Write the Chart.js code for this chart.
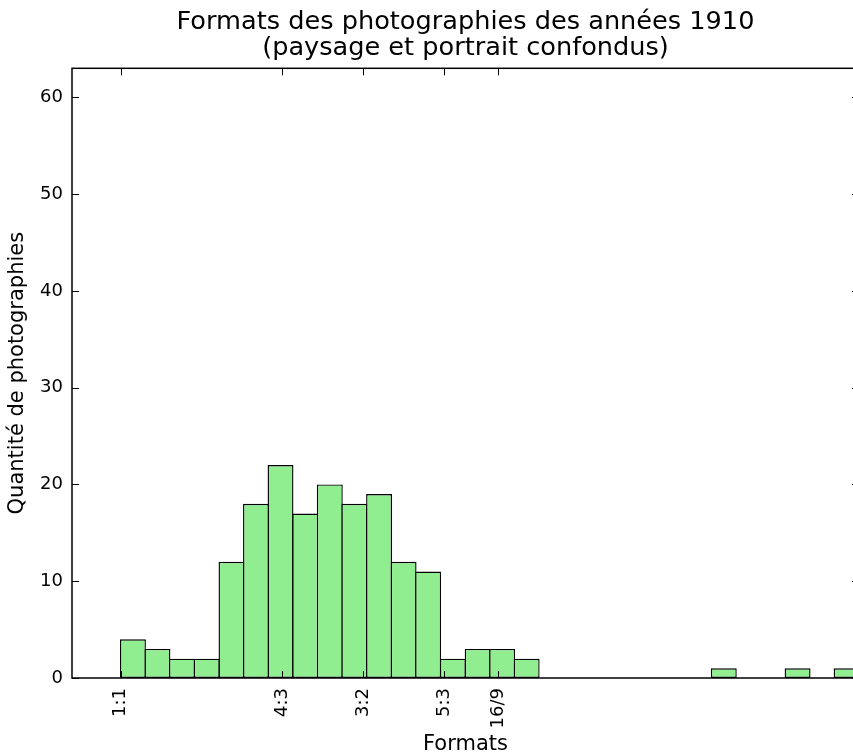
<!DOCTYPE html>
<html>
<head>
<meta charset="utf-8">
<script src="https://cdn.jsdelivr.net/npm/chart.js@4"></script>
<style>
  html, body { margin: 0; padding: 0; overflow: hidden; background: #fff; }
  #wrap { width: 900px; height: 756px; }
</style>
</head>
<body>
<div id="wrap"><canvas id="formatsChart" width="900" height="756"></canvas></div>
<script>
// histogram bins (aspect ratio = width / height)
const binEdges = [1.000, 1.051, 1.101, 1.152, 1.203, 1.254, 1.304, 1.355, 1.406, 1.456,
  1.507, 1.558, 1.608, 1.659, 1.710, 1.761, 1.811, 1.862, 1.913, 1.963,
  2.014, 2.065, 2.115, 2.166, 2.217, 2.268, 2.318, 2.369, 2.420, 2.470, 2.521];
const counts = [4, 3, 2, 2, 12, 18, 22, 17, 20, 18,
  19, 12, 11, 2, 3, 3, 2, 0, 0, 0,
  0, 0, 0, 0, 1, 0, 0, 1, 0, 1];

const tickValues = [1, 4 / 3, 3 / 2, 5 / 3, 16 / 9];
const tickLabels = ['1:1', '4:3', '3:2', '5:3', '16/9'];

const points = counts.map((c, i) => ({ x: (binEdges[i] + binEdges[i + 1]) / 2, y: c }));

const FONT = 'DejaVu Sans';

// matplotlib-like box with inward ticks on all four sides
const frame = {
  id: 'frame',
  afterDatasetsDraw(chart) {
    const { ctx, chartArea: a, scales } = chart;
    const len = 7;
    ctx.save();
    ctx.strokeStyle = '#000';
    ctx.lineWidth = 1;
    ctx.beginPath();
    scales.x.ticks.forEach(t => {
      const px = Math.round(scales.x.getPixelForValue(t.value)) + 0.5;
      ctx.moveTo(px, a.bottom); ctx.lineTo(px, a.bottom - len);
      ctx.moveTo(px, a.top); ctx.lineTo(px, a.top + len);
    });
    scales.y.ticks.forEach(t => {
      const py = Math.round(scales.y.getPixelForValue(t.value)) + 0.5;
      ctx.moveTo(a.left, py); ctx.lineTo(a.left + len, py);
      ctx.moveTo(a.right, py); ctx.lineTo(a.right - len, py);
    });
    ctx.stroke();
    ctx.lineWidth = 1.5;
    ctx.strokeRect(a.left, a.top, a.right - a.left, a.bottom - a.top);
    ctx.restore();
  }
};

new Chart(document.getElementById('formatsChart'), {
  type: 'bar',
  data: {
    datasets: [{
      data: points,
      backgroundColor: '#90EE90',
      borderColor: '#000',
      borderWidth: 1.4,
      borderSkipped: false,
      barPercentage: 1.057,
      categoryPercentage: 1
    }]
  },
  options: {
    responsive: false,
    animation: false,
    devicePixelRatio: 1,
    layout: { padding: { left: 0, right: 41, top: 0, bottom: 0 } },
    plugins: {
      legend: { display: false },
      tooltip: { enabled: false },
      title: {
        display: true,
        fullSize: false,
        text: ['Formats des photographies des années 1910', '(paysage et portrait confondus)'],
        color: '#000',
        font: { family: FONT, size: 25.6, weight: 'normal', lineHeight: 1.0 },
        padding: { top: 9.5, bottom: 7.6 }
      }
    },
    scales: {
      x: {
        type: 'linear',
        min: 0.9,
        max: 2.521,
        offset: false,
        grid: { display: false, drawTicks: false },
        border: { display: false },
        afterBuildTicks: s => { s.ticks = tickValues.map(v => ({ value: v })); },
        afterFit: s => { s.height = 78; },
        ticks: {
          autoSkip: false,
          minRotation: 90,
          maxRotation: 90,
          padding: 10,
          color: '#000',
          font: { family: FONT, size: 18 },
          callback: (v, i) => tickLabels[i]
        },
        title: {
          display: true,
          text: 'Formats',
          color: '#000',
          font: { family: FONT, size: 21, lineHeight: 1 },
          padding: { top: 0, bottom: 0.8 }
        }
      },
      y: {
        min: 0,
        max: 63,
        grid: { display: false, drawTicks: false },
        border: { display: false },
        afterBuildTicks: s => { s.ticks = [0, 10, 20, 30, 40, 50, 60].map(v => ({ value: v })); },
        afterFit: s => { s.width = 72; },
        ticks: {
          padding: 9,
          color: '#000',
          font: { family: FONT, size: 18 }
        },
        title: {
          display: true,
          text: 'Quantité de photographies',
          color: '#000',
          font: { family: FONT, size: 21 },
          padding: { top: 5, bottom: 0 }
        }
      }
    }
  },
  plugins: [frame]
});
</script>
</body>
</html>
